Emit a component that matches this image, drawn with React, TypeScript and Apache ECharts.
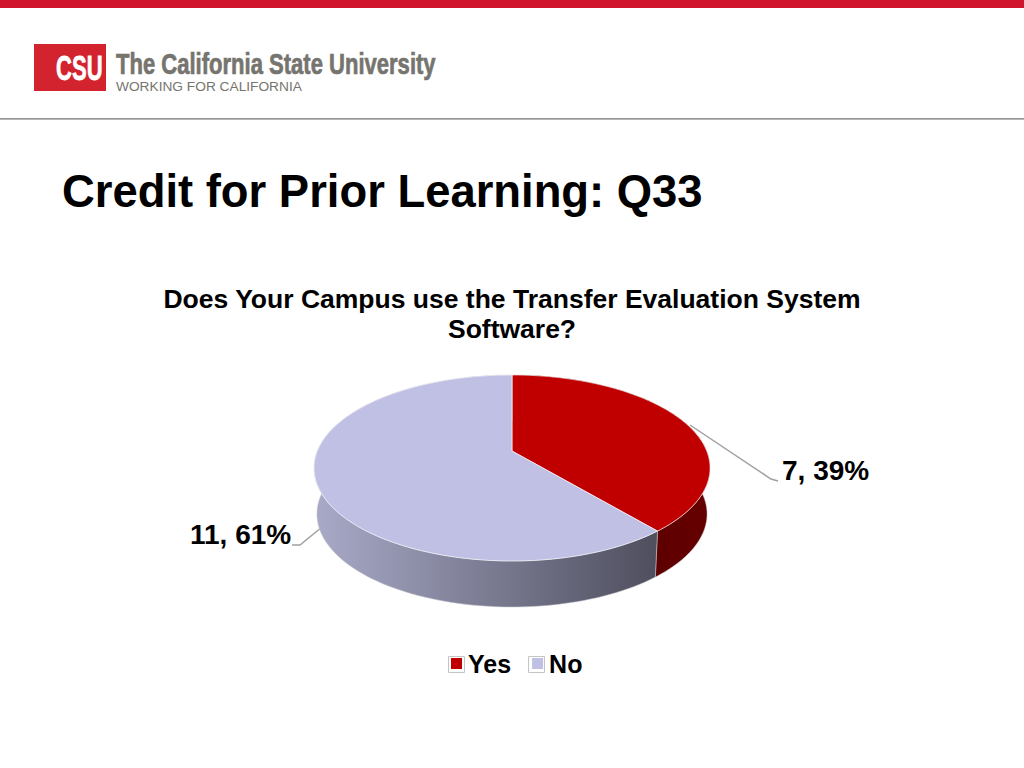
import React, { useEffect, useRef } from "react";
import * as echarts from "echarts";

const categories = ["Yes", "No"];
const counts = [7, 11];
const percents = [39, 61];
const topColors = ["#c00000", "#bfc0e3"];
const wallStops = [
  ["#660000", "#470000"],
  ["#a9aac8", "#4e4e5e"],
];
const chartTitle = ["Does Your Campus use the Transfer Evaluation System", "Software?"];
const pageTitle = "Credit for Prior Learning: Q33";

const FONT = '"Liberation Sans", Arial, sans-serif';
const total = counts.reduce((a, b) => a + b, 0);

function project(theta: number, r: number, dy: number, sx: number) {
  const u = Math.sin(theta) * r;
  const v = -Math.cos(theta) * r;
  const k = 0.1827;
  const w = 1 - k * v;
  return [512 + (194.7 * sx * u) / w, 451 + (89.9 * v) / w + dy];
}

function arc(a0: number, a1: number, dy: number, sx: number) {
  const pts: number[][] = [];
  const n = 120;
  for (let i = 0; i <= n; i++) pts.push(project(a0 + ((a1 - a0) * i) / n, 1, dy, sx));
  return pts;
}

function sliceRender(idx: number) {
  return () => {
    const before = counts.slice(0, idx).reduce((a, b) => a + b, 0);
    const a0 = (before / total) * Math.PI * 2;
    const a1 = ((before + counts[idx]) / total) * Math.PI * 2;
    const top = arc(a0, a1, 0, 1);
    const bottom = arc(a0, a1, 46, 0.985);
    return {
      type: "group",
      children: [
        {
          type: "polygon",
          shape: { points: top.concat(bottom.slice().reverse()) },
          style: {
            fill: new echarts.graphic.LinearGradient(idx === 0 ? 1 : 0, 0, idx === 0 ? 0 : 1, 0, [
              { offset: 0, color: wallStops[idx][0] },
              { offset: 1, color: wallStops[idx][1] },
            ]),
            stroke: "rgba(200,200,205,0.75)",
            lineWidth: 0.7,
          },
        },
        {
          type: "polygon",
          shape: { points: [project(0, 0, 0, 1)].concat(top) },
          style: { fill: topColors[idx], stroke: "rgba(255,255,255,0.75)", lineWidth: 0.8 },
        },
      ],
    };
  };
}

// baseline is the y of the text's baseline; the element is placed by its top edge
function textAt(text: string, x: number, baseline: number, size: number, weight: string, fill: string, scaleX = 1, align = "left", thicken = 0) {
  return {
    type: "text",
    x,
    y: baseline - size * 0.88,
    scaleX,
    style: {
      text,
      x: 0,
      y: 0,
      fill,
      font: `${weight} ${size}px ${FONT}`,
      textAlign: align,
      textVerticalAlign: "top",
      stroke: thicken ? fill : "none",
      lineWidth: thicken,
    },
  };
}

export default function App() {
  const ref = useRef<HTMLDivElement>(null);
  useEffect(() => {
    document.body.style.margin = "0";
    const chart = echarts.init(ref.current!, undefined, { renderer: "svg" });
    chart.setOption({
      animation: false,
      backgroundColor: "#ffffff",
      legend: {
        data: categories.map((name, i) => ({ name, itemStyle: { color: topColors[i] } })),
        left: 446,
        top: 646,
        itemWidth: 11,
        itemHeight: 11,
        itemGap: 21,
        icon: "rect",
        selectedMode: false,
        textStyle: { color: "#000", fontFamily: FONT, fontWeight: "bold", fontSize: 25, padding: [0, 0, 6, 1] },
      },
      graphic: [
        { type: "rect", shape: { x: 0, y: 0, width: 1024, height: 8 }, style: { fill: "#cf142b" } },
        { type: "rect", shape: { x: 34, y: 44, width: 72, height: 47 }, style: { fill: "#d2232f" } },
        textAt("CSU", 56, 81, 35, "bold", "#ffffff", 0.63, "left", 0.8),
        textAt("The California State University", 116, 75, 29, "bold", "#76746e", 0.76, "left", 0.7),
        textAt("WORKING FOR CALIFORNIA", 116, 92, 13, "normal", "#76746e", 1.055),
        { type: "rect", shape: { x: 0, y: 118.2, width: 1024, height: 1.2 }, style: { fill: "#707070" } },
        textAt(pageTitle, 62, 209, 45.4, "bold", "#000"),
        ...chartTitle.map((text, i) => textAt(text, 512, 309 + i * 30, 26.5, "bold", "#000", 1, "center")),
        { type: "polyline", shape: { points: [[690, 425], [771, 479], [778, 481]] }, style: { stroke: "#a0a0a0", lineWidth: 1.5, fill: "none" } },
        { type: "polyline", shape: { points: [[322, 527], [300, 545], [292, 545]] }, style: { stroke: "#a0a0a0", lineWidth: 1.5, fill: "none" } },
        textAt(`${counts[0]}, ${percents[0]}%`, 782, 481, 28, "bold", "#000"),
        textAt(`${counts[1]}, ${percents[1]}%`, 190, 545, 28, "bold", "#000"),
        { type: "rect", shape: { x: 448.5, y: 656.5, width: 16, height: 16 }, style: { fill: "none", stroke: "#c4c4c4", lineWidth: 1 } },
        { type: "rect", shape: { x: 528.5, y: 656.5, width: 16, height: 16 }, style: { fill: "none", stroke: "#c4c4c4", lineWidth: 1 } },
      ],
      series: categories.map((name, i) => ({
        type: "custom",
        name,
        coordinateSystem: "none",
        silent: true,
        clip: false,
        data: [counts[i]],
        itemStyle: { color: topColors[i] },
        renderItem: sliceRender(i),
      })),
    });
    return () => chart.dispose();
  }, []);
  return <div ref={ref} style={{ position: "absolute", left: 0, top: 0, width: 1024, height: 768 }} />;
}
